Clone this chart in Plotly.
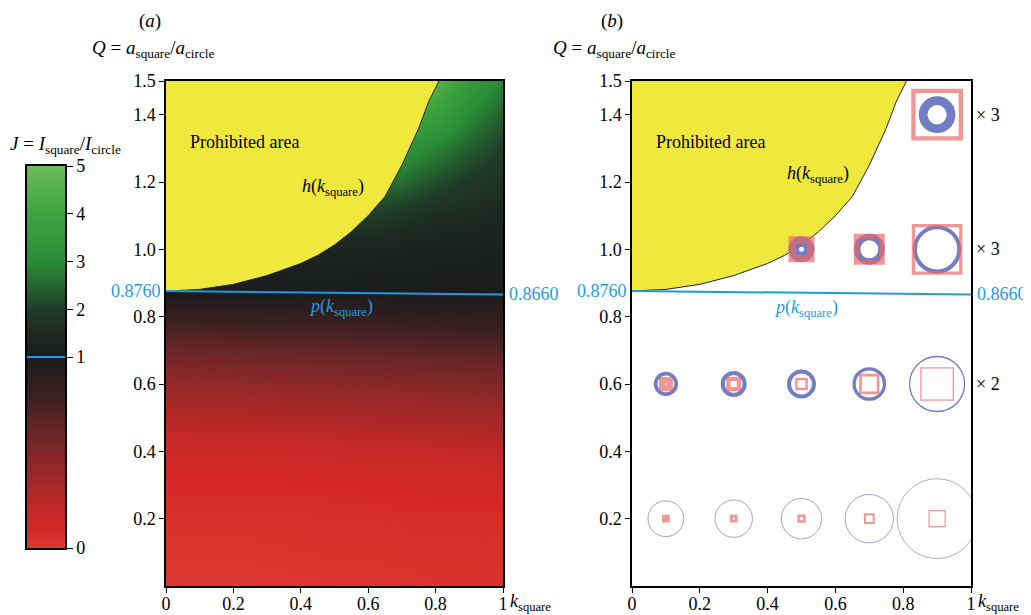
import plotly.graph_objects as go

# the page body has the browser's default 8px margin; the figure fills the rest of the view
OFF = 8
FW, FH = 1031 - OFF, 615 - OFF
FONT = "Liberation Serif"
BLUE = "#1e9be0"

# ---------------- data ----------------
k_ticks = [0, 0.2, 0.4, 0.6, 0.8, 1.0]
k_tick_text = ["0", "0.2", "0.4", "0.6", "0.8", "1"]
q_ticks = [0.2, 0.4, 0.6, 0.8, 1.0, 1.2, 1.4, 1.5]
q_tick_text = ["0.2", "0.4", "0.6", "0.8", "1.0", "1.2", "1.4", "1.5"]

# prohibited-area boundary h(k_square)
h_k = [0, 0.1, 0.2, 0.3, 0.4, 0.45, 0.5, 0.55, 0.6, 0.65, 0.7, 0.75, 0.78, 0.81]
h_q = [0.876, 0.881, 0.896, 0.922, 0.958, 0.982, 1.013, 1.052, 1.10, 1.157, 1.25, 1.36, 1.44, 1.5]

# J = 1 line p(k_square)
p_k = [0, 0.25, 0.5, 0.75, 1.0]
p_q = [0.876, 0.874, 0.8715, 0.869, 0.866]

# J = I_square / I_circle on a coarse grid (estimated from the colours)
grid_k = [0, 0.25, 0.5, 0.6, 0.7, 0.8, 0.9, 1.0]
grid_q = [0, 0.2, 0.35, 0.45, 0.55, 0.65, 0.75, 0.87, 1.0, 1.1, 1.2, 1.3, 1.4, 1.5]
J_q000 = [0.02, 0.02, 0.03, 0.03, 0.03, 0.04, 0.04, 0.04]
J_q020 = [0.05, 0.05, 0.06, 0.06, 0.07, 0.07, 0.07, 0.08]
J_q035 = [0.11, 0.11, 0.12, 0.13, 0.13, 0.14, 0.14, 0.15]
J_q045 = [0.20, 0.21, 0.23, 0.24, 0.25, 0.26, 0.27, 0.28]
J_q055 = [0.34, 0.35, 0.37, 0.38, 0.39, 0.40, 0.41, 0.42]
J_q065 = [0.50, 0.52, 0.54, 0.55, 0.56, 0.57, 0.58, 0.59]
J_q075 = [0.70, 0.71, 0.73, 0.74, 0.75, 0.76, 0.77, 0.78]
J_q087 = [1.00, 1.00, 1.00, 1.00, 1.01, 1.01, 1.01, 1.01]
J_q100 = [1.30, 1.30, 1.35, 1.30, 1.25, 1.20, 1.17, 1.15]
J_q110 = [2.00, 2.00, 2.00, 2.00, 1.80, 1.60, 1.50, 1.40]
J_q120 = [2.70, 2.70, 2.70, 2.70, 2.60, 2.20, 1.90, 1.70]
J_q130 = [3.30, 3.30, 3.30, 3.30, 3.30, 2.90, 2.40, 2.00]
J_q140 = [4.20, 4.20, 4.20, 4.20, 4.20, 3.80, 3.00, 2.40]
J_q150 = [5.00, 5.00, 5.00, 5.00, 5.00, 4.60, 3.60, 2.90]
J_rows = [J_q000, J_q020, J_q035, J_q045, J_q055, J_q065, J_q075, J_q087,
          J_q100, J_q110, J_q120, J_q130, J_q140, J_q150]

cb_ticks = [0, 1, 2, 3, 4, 5]

# panel (b) sample geometries
mk_k = [0.1, 0.3, 0.5, 0.7, 0.9, 0.1, 0.3, 0.5, 0.7, 0.9, 0.5, 0.7, 0.9, 0.9]
mk_q = [0.2, 0.2, 0.2, 0.2, 0.2, 0.6, 0.6, 0.6, 0.6, 0.6, 1.0, 1.0, 1.0, 1.4]
circle_outer_px = [36.7, 38.3, 41.3, 49.3, 80.7, 24.3, 26, 29, 33.7, 56.3, 26, 31, 48.3, 36.7]
circle_ring_px = [0.9, 0.9, 0.9, 0.9, 0.8, 3.7, 4, 4, 3.3, 1.3, 10.5, 6.5, 4, 8.8]
square_outer_px = [7.7, 7.7, 8.3, 10.7, 17.3, 14, 14.7, 12.7, 20.3, 33.7, 26, 31, 50.7, 51.7]
square_ring_px = [3.85, 2.8, 2.5, 2, 1.2, 6.2, 4.3, 2.5, 2.7, 1.3, 7.5, 5, 3.3, 4.3]
scale_q = [1.4, 1.0, 0.6]
scale_text = ["× 3", "× 3", "× 2"]

# ---------------- helpers ----------------
def t(J):
    return J / 2 if J <= 1 else 0.5 + (J - 1) / 8

colorscale = [
    [0.0, "#dc3a32"], [0.05, "#d42828"], [0.1, "#c42828"], [0.2, "#972828"],
    [0.3, "#6a2628"], [0.4, "#3a2022"], [0.5, "#1b1b1d"], [0.5625, "#1d2922"],
    [0.625, "#203c2a"], [0.6875, "#25652f"], [0.75, "#2a8c37"], [0.875, "#3da43f"],
    [1.0, "#6cba58"],
]

def px_x(p):
    return (p - OFF) / FW

def px_y(p):
    return 1 - (p - OFF) / FH

fig = go.Figure()

fig.add_trace(go.Heatmap(
    x=grid_k, y=grid_q, z=[[t(v) for v in row] for row in J_rows],
    zmin=0, zmax=1, colorscale=colorscale, zsmooth="best", showscale=False,
    hoverinfo="skip", xaxis="x", yaxis="y"))

for xa, ya in [("x", "y"), ("x2", "y2")]:
    fig.add_trace(go.Scatter(
        x=h_k + [0], y=h_q + [max(h_q)], fill="toself", fillcolor="#f0e83c",
        mode="none", hoverinfo="skip", xaxis=xa, yaxis=ya))
    fig.add_trace(go.Scatter(
        x=h_k, y=h_q, mode="lines", line=dict(color="#222222", width=1),
        hoverinfo="skip", xaxis=xa, yaxis=ya))
    fig.add_trace(go.Scatter(
        x=p_k, y=p_q, mode="lines", line=dict(color=BLUE, width=2),
        hoverinfo="skip", xaxis=xa, yaxis=ya))

fig.add_trace(go.Scatter(
    x=mk_k, y=mk_q, mode="markers", hoverinfo="skip", xaxis="x2", yaxis="y2",
    marker=dict(symbol="circle-open", color="#6a76c0",
                opacity=[0.75 if r < 1 else 0.95 for r in circle_ring_px],
                size=[o - r for o, r in zip(circle_outer_px, circle_ring_px)],
                line=dict(width=circle_ring_px))))
fig.add_trace(go.Scatter(
    x=mk_k, y=mk_q, mode="markers", hoverinfo="skip", xaxis="x2", yaxis="y2",
    marker=dict(symbol="square-open", color="#e96a6a", opacity=0.7,
                size=[o - r for o, r in zip(square_outer_px, square_ring_px)],
                line=dict(width=square_ring_px))))

# colour bar drawn as its own small subplot (non-linear J scale)
cb_y = [t(v) for v in cb_ticks]
fig.add_trace(go.Heatmap(
    x=[0, 1], y=cb_y, z=[[v, v] for v in cb_y], zmin=0, zmax=1,
    colorscale=colorscale, zsmooth="best", showscale=False, hoverinfo="skip",
    xaxis="x3", yaxis="y3"))
fig.add_trace(go.Scatter(
    x=[0, 1], y=[t(1), t(1)], mode="lines", line=dict(color=BLUE, width=2),
    hoverinfo="skip", xaxis="x3", yaxis="y3"))

FS = 18
tickfont = dict(family=FONT, size=FS, color="black")
common_x = dict(range=[0, 1], tickvals=k_ticks, ticktext=k_tick_text, ticks="outside",
                ticklen=5, tickwidth=1, tickcolor="black", showline=True, mirror=True,
                linecolor="black", linewidth=1.5, showgrid=False, zeroline=False,
                tickfont=tickfont, automargin=False, ticklabelstandoff=-4)
common_y = dict(range=[0, 1.5], tickvals=q_ticks, ticktext=q_tick_text, ticks="outside",
                ticklen=5, tickwidth=1, tickcolor="black", showline=True, mirror=True,
                linecolor="black", linewidth=1.5, showgrid=False, zeroline=False,
                tickfont=tickfont, automargin=False)

ydom = [px_y(586), px_y(81)]
fig.update_layout(
    width=FW, height=FH, margin=dict(l=0, r=0, t=0, b=0, pad=0, autoexpand=False),
    paper_bgcolor="white", plot_bgcolor="white", showlegend=False,
    xaxis=dict(domain=[px_x(166), px_x(503)], anchor="y", **common_x),
    yaxis=dict(domain=ydom, anchor="x", **common_y),
    xaxis2=dict(domain=[px_x(632), px_x(971)], anchor="y2", **common_x),
    yaxis2=dict(domain=ydom, anchor="x2", **common_y),
    xaxis3=dict(domain=[px_x(27), px_x(65)], anchor="y3", range=[0, 1],
                showticklabels=False, ticks="", showline=True, mirror=True,
                linecolor="black", linewidth=1.5, showgrid=False, zeroline=False,
                automargin=False),
    yaxis3=dict(domain=[px_y(548), px_y(166)], anchor="x3", side="right", range=[0, 1],
                tickvals=cb_y, ticktext=[str(v) for v in cb_ticks], ticks="outside",
                ticklen=6, tickwidth=1, tickcolor="black", showline=True, mirror=True,
                linecolor="black", linewidth=1.5, showgrid=False, zeroline=False,
                tickfont=tickfont, automargin=False),
)

ann = []
def A(text, x, y, xref="paper", yref="paper", xanchor="left", yanchor="middle",
      color="black", size=FS, xshift=0, yshift=0):
    ann.append(dict(text=text, x=x, y=y, xref=xref, yref=yref, xanchor=xanchor,
                    yanchor=yanchor, showarrow=False, xshift=xshift, yshift=yshift,
                    font=dict(family=FONT, size=size, color=color)))

Qlab = "<i>Q</i> = <i>a</i><sub>square</sub>/<i>a</i><sub>circle</sub>"
A("(<i>a</i>)", px_x(150), px_y(21), xanchor="center", size=19)
A("(<i>b</i>)", px_x(612), px_y(21), xanchor="center", size=19)
A(Qlab, px_x(90), px_y(49), size=19)
A(Qlab, px_x(551), px_y(49), size=19)
A("<i>J</i> = <i>I</i><sub>square</sub>/<i>I</i><sub>circle</sub>", px_x(8), px_y(145), size=19)

for xa, ya, hpos, ppos in [("x", "y", (0.398, 1.185), (0.418, 0.826)),
                           ("x2", "y2", (0.451, 1.221), (0.413, 0.823))]:
    A("Prohibited area", 0.065, 1.32, xref=xa, yref=ya)
    A("<i>h</i>(<i>k</i><sub>square</sub>)", hpos[0], hpos[1], xref=xa, yref=ya)
    A("<i>p</i>(<i>k</i><sub>square</sub>)", ppos[0], ppos[1], xref=xa, yref=ya, color=BLUE)
    A("%.4f" % p_q[0], 0, p_q[0], xref=xa + " domain", yref=ya, xanchor="right",
      color=BLUE, xshift=-3)
    A("%.4f" % p_q[-1], 1, p_q[-1], xref=xa + " domain", yref=ya, color=BLUE, xshift=4)
    A("<i>k</i><sub>square</sub>", 1, px_y(602), xref=xa + " domain", xshift=5)

for q, s in zip(scale_q, scale_text):
    A(s, 1, q, xref="x2 domain", yref="y2", xshift=3)

fig.update_layout(annotations=ann)
fig.write_html("out.html")
